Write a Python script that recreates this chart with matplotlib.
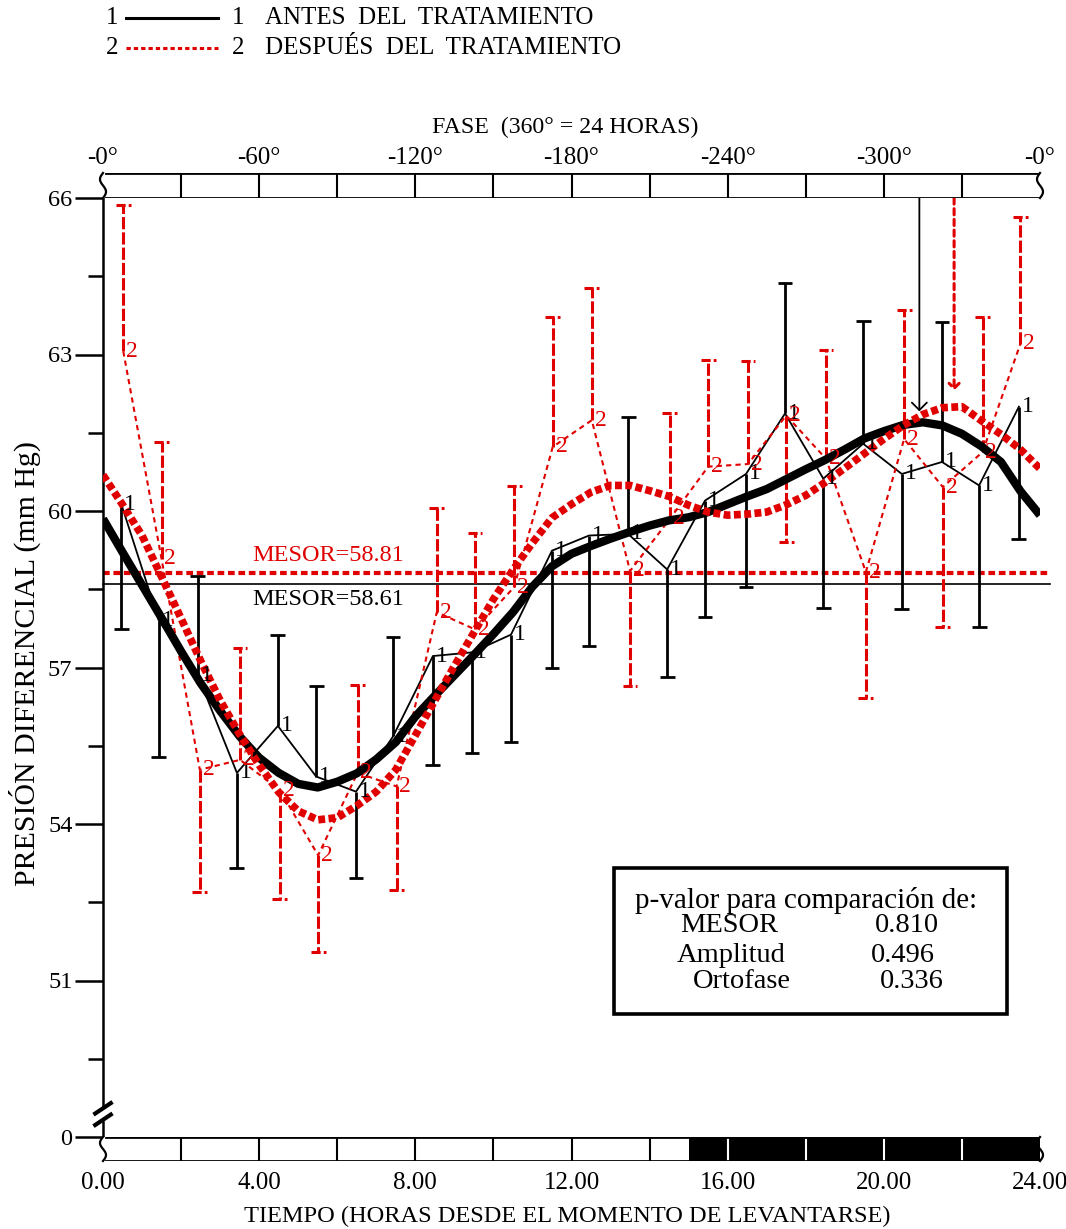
import matplotlib
matplotlib.use('Agg')
import matplotlib.pyplot as plt
from matplotlib.patches import Rectangle
from matplotlib.lines import Line2D
import numpy as np

plt.rcParams['font.family'] = ['Liberation Serif', 'DejaVu Serif']

RED = '#e00000'

# group 1: before treatment (means and one-sided error bar ends)
hours_1 = [0.47, 1.43, 2.43, 3.43, 4.48, 5.46, 6.48, 7.43, 8.45, 9.45, 10.45, 11.5,
           12.45, 13.45, 14.45, 15.42, 16.47, 17.47, 18.45, 19.47, 20.46, 21.49, 22.44, 23.46]
mean_1 = [60.13, 57.9, 56.85, 54.98, 55.88, 54.91, 54.62, 55.68, 57.22, 57.29, 57.63, 59.24,
          59.53, 59.56, 58.88, 60.2, 60.71, 61.87, 60.62, 61.29, 60.71, 60.94, 60.49, 62.0]
err_1 = [57.73, 55.29, 58.76, 53.15, 57.63, 56.64, 52.96, 57.58, 55.13, 55.37, 55.58, 57.0,
         57.41, 61.81, 56.81, 57.96, 58.54, 64.38, 58.15, 63.65, 58.12, 63.62, 57.77, 59.46]

# group 2: after treatment
hours_2 = [0.52, 1.5, 2.48, 3.51, 4.53, 5.51, 6.52, 7.52, 8.55, 9.53, 10.53, 11.52,
           12.52, 13.5, 14.52, 15.5, 16.52, 17.5, 18.52, 19.54, 20.52, 21.51, 22.53, 23.5]
mean_2 = [63.06, 59.08, 55.04, 55.23, 54.65, 53.4, 54.98, 54.72, 58.06, 57.73, 58.54, 61.23,
          61.74, 58.85, 59.85, 60.85, 60.9, 61.83, 61.0, 58.83, 61.38, 60.46, 61.13, 63.21]
err_2 = [65.87, 61.32, 52.7, 57.37, 52.56, 51.54, 56.67, 52.74, 60.06, 59.58, 60.48, 63.71,
         64.27, 56.64, 61.87, 62.9, 62.87, 59.4, 63.08, 56.42, 63.85, 57.77, 63.71, 65.63]

fit_hours = [h / 2 for h in range(49)]
fit_1 = [59.85, 59.21, 58.58, 57.95, 57.31, 56.70, 56.17, 55.68, 55.27, 54.98,
         54.77, 54.70, 54.81, 54.97, 55.24, 55.57, 56.06, 56.46, 56.85, 57.24,
         57.64, 58.06, 58.55, 58.94, 59.18, 59.33, 59.47, 59.60, 59.72, 59.82,
         59.88, 59.98, 60.13, 60.28, 60.42, 60.61, 60.80, 60.98, 61.18, 61.39,
         61.53, 61.65, 61.70, 61.64, 61.48, 61.24, 60.94, 60.38, 59.92]
fit_2 = [60.69, 60.12, 59.53, 58.74, 57.94, 57.13, 56.37, 55.72, 55.13, 54.61,
         54.25, 54.08, 54.12, 54.35, 54.62, 55.04, 55.70, 56.37, 57.03, 57.67,
         58.31, 58.87, 59.39, 59.87, 60.13, 60.36, 60.49, 60.49, 60.39, 60.28,
         60.11, 59.98, 59.92, 59.94, 59.98, 60.12, 60.30, 60.55, 60.82, 61.10,
         61.38, 61.64, 61.85, 61.98, 62.00, 61.73, 61.47, 61.18, 60.81]

mesor_1 = 58.61
mesor_2 = 58.81
acro_1 = (20.91, 61.91)
acro_2 = (21.80, 62.31)

p_names = ['MESOR', 'Amplitud', 'Ortofase']
p_values = ['0.810', '0.496', '0.336']

time_ticks = [0, 4, 8, 12, 16, 20, 24]
time_labels = ['0.00', '4.00', '8.00', '12.00', '16.00', '20.00', '24.00']
phase_labels = ['-0°', '-60°', '-120°', '-180°', '-240°', '-300°', '-0°']
night_start = 15

y_major = [48, 51, 54, 57, 60, 63, 66]
y_major_labels = ['0', '51', '54', '57', '60', '63', '66']

W, H = 1066, 1229
FS = 17.5

fig = plt.figure(figsize=(W / 100, H / 100), dpi=100)

ax = fig.add_axes([103 / W, 1 - 1137 / H, 937 / W, 939 / H])
ax.set_xlim(0, 24)
ax.set_ylim(48, 66)
for s in ['top', 'right', 'bottom']:
    ax.spines[s].set_visible(False)
ax.spines['left'].set_linewidth(1.8)
ax.spines['left'].set_bounds(48.58, 66)
ax.plot([0, 0], [48, 48.28], color='black', lw=1.8, clip_on=False)
for yb in [48.55, 48.33]:
    ax.plot([-0.2, 0.2], [yb - 0.1, yb + 0.1], color='black', lw=3, clip_on=False)
ax.set_xticks([])
ax.set_yticks(y_major, y_major_labels)
ax.set_yticks(np.arange(49.5, 66, 3), minor=True)
ax.tick_params(axis='y', which='major', length=20, width=1.8, labelsize=FS, pad=2)
ax.tick_params(axis='y', which='minor', length=11, width=1.8)

# mesor lines
ax.plot([0, 24.25], [mesor_1] * 2, color='black', lw=1.2, clip_on=False)
ax.plot([0, 24.25], [mesor_2] * 2, color=RED, lw=3, ls=(0, (1.6, 0.9)), clip_on=False)
ax.annotate(f'MESOR={mesor_2:.2f}', (3.82, mesor_2), xytext=(0, 5), textcoords='offset points',
            color=RED, size=FS, va='bottom')
ax.annotate(f'MESOR={mesor_1:.2f}', (3.82, mesor_1), xytext=(0, -4), textcoords='offset points',
            color='black', size=FS, va='top')

# fitted curves
ax.plot(fit_hours, fit_1, color='black', lw=6, solid_capstyle='butt',
        solid_joinstyle='round', zorder=4)
ax.plot(fit_hours, fit_2, color=RED, lw=5.5, ls=(0, (0.9, 0.45)), zorder=5)

# observed means and error bars
ax.plot(hours_1, mean_1, color='black', lw=1.3, zorder=3)
ax.vlines(hours_1, mean_1, err_1, color='black', lw=2, zorder=3)
ax.hlines(err_1, np.array(hours_1) - 0.19, np.array(hours_1) + 0.19, color='black', lw=2, zorder=3)
ax.plot(hours_2, mean_2, color=RED, lw=1.5, ls=(0, (2.5, 2)), zorder=3)
ax.vlines(hours_2, mean_2, err_2, color=RED, lw=2.2, linestyles=[(0, (4, 1))], zorder=3)
ax.hlines(err_2, np.array(hours_2) - 0.19, np.array(hours_2) + 0.19, color=RED, lw=2.2,
          linestyles=[(0, (3, 1))], zorder=3)
for x, y in zip(hours_1, mean_1):
    ax.annotate('1', (x, y), xytext=(2, 0), textcoords='offset points', va='center',
                ha='left', size=17, zorder=6)
for x, y in zip(hours_2, mean_2):
    ax.annotate('2', (x, y), xytext=(2, 0), textcoords='offset points', va='center',
                ha='left', size=17, color=RED, zorder=6)

# acrophase markers
ax.annotate('', xy=acro_1, xytext=(acro_1[0], 66),
            arrowprops=dict(arrowstyle='->,head_length=0.45,head_width=0.45', lw=1.3,
                            color='black', shrinkA=0, shrinkB=0, mutation_scale=12))
ax.annotate('', xy=acro_2, xytext=(acro_2[0], 66),
            arrowprops=dict(arrowstyle='->,head_length=0.3,head_width=0.3', lw=2.2,
                            color=RED, ls=(0, (2, 1.5)), shrinkA=0, shrinkB=0, mutation_scale=12))


def time_bar(rect, labels, top, dark=None):
    b = fig.add_axes(rect)
    b.set_xlim(0, 24)
    b.set_ylim(0, 1)
    for s in b.spines.values():
        s.set_visible(False)
    b.set_yticks([])
    if dark is not None:
        b.axvspan(dark, 24, color='black', lw=0)
    for h in range(2, 24, 2):
        c = 'white' if dark is not None and h > dark else 'black'
        b.axvline(h, color=c, lw=1.5)
    b.axhline(0, color='black', lw=2, xmin=0.003, xmax=0.997)
    b.axhline(1, color='black', lw=2, xmin=0.003, xmax=0.997)
    yy = np.linspace(0, 1, 40)
    wave = 0.0032 * np.sin(2 * np.pi * yy)
    b.plot(wave, yy, color='black', lw=1.6, transform=b.transAxes, clip_on=False)
    b.plot(1 + wave, yy, color='black', lw=1.6, transform=b.transAxes, clip_on=False)
    b.set_xticks(time_ticks, labels)
    if top:
        b.xaxis.tick_top()
        b.tick_params(axis='x', length=0, pad=3, labelsize=18)
    else:
        b.tick_params(axis='x', length=0, pad=8, labelsize=18)
    return b


time_bar([103 / W, 1 - 198 / H, 937 / W, 25 / H], phase_labels, True)
time_bar([103 / W, 1 - 1161 / H, 937 / W, 24 / H], time_labels, False, dark=night_start)

fig.text(565 / W, 1 - 127 / H, 'FASE  (360° = 24 HORAS)', ha='center', va='center', size=17.2)
fig.text(567 / W, 1 - 1216 / H, 'TIEMPO (HORAS DESDE EL MOMENTO DE LEVANTARSE)',
         ha='center', va='center', size=17.6)
fig.text(25 / W, 1 - 664 / H, 'PRESIÓN DIFERENCIAL (mm Hg)', ha='center', va='center',
         rotation=90, size=21.5)

# legend
leg_rows = [('1', 'black', '-', 'ANTES  DEL  TRATAMIENTO', 18),
            ('2', RED, (0, (1.4, 1.0)), 'DESPUÉS  DEL  TRATAMIENTO', 48)]
for key, col, ls, lab, yp in leg_rows:
    yf = 1 - yp / H
    fig.text(112 / W, yf, key, ha='center', va='center', size=18)
    fig.add_artist(Line2D([126 / W, 218 / W], [yf, yf], color=col, lw=2.2, ls=ls))
    fig.text(238 / W, yf, key, ha='center', va='center', size=18)
    fig.text(265 / W, yf, lab, ha='left', va='center', size=18)

# p-value box
fig.add_artist(Rectangle((614 / W, 1 - 1014 / H), 393 / W, 146 / H, fill=False, lw=2.6,
                         transform=fig.transFigure))
fig.text(806 / W, 1 - 900 / H, 'p-valor para comparación de:', ha='center', va='center', size=21)
name_x = [729, 731, 742]
val_x = [907, 903, 912]
row_y = [926, 955, 982]
for nm, pv, nx, vx, ry in zip(p_names, p_values, name_x, val_x, row_y):
    fig.text(nx / W, 1 - ry / H, nm, ha='center', va='center', size=20.5)
    fig.text(vx / W, 1 - ry / H, pv, ha='center', va='center', size=20.5)

fig.savefig('out.png', dpi=100)
